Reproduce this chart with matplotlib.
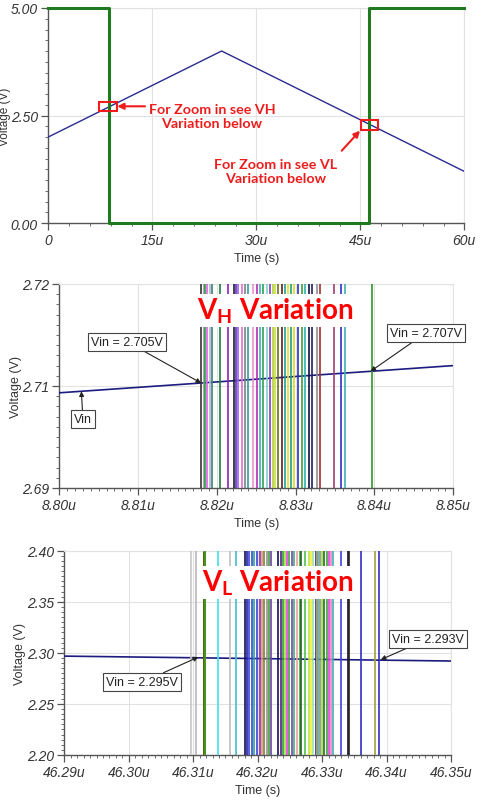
import matplotlib
matplotlib.use("Agg")
import matplotlib.pyplot as plt
from matplotlib.ticker import FixedLocator, FixedFormatter, AutoMinorLocator
from matplotlib.patches import Rectangle

plt.rcParams['font.family'] = ['Liberation Sans', 'DejaVu Sans']
plt.rcParams['mathtext.fontset'] = 'custom'
plt.rcParams['mathtext.bf'] = 'Lato:bold'
plt.rcParams['mathtext.rm'] = 'Lato'

# ---------------- data ----------------
# top panel (time in microseconds)
sq_t = [0, 8.82, 8.82, 46.32, 46.32, 60]
sq_v = [5, 5, 0, 0, 5, 5]
vin_t = [0, 25, 60]
vin_v = [2.0, 4.0, 1.2]
top_xticks = [0, 15, 30, 45, 60]
top_xlabels = ['0', '15u', '30u', '45u', '60u']
top_yticks = [0, 2.5, 5]
top_ylabels = ['0.00', '2.50', '5.00']

# middle panel (VH)
vh_vin_t = [8.80, 8.85]
vh_vin_v = [2.7040, 2.7080]
vh_lines_t = [8.8180, 8.8183, 8.8185, 8.8187, 8.8191, 8.8194, 8.8204, 8.8214,
              8.8222, 8.8224, 8.8227, 8.8232, 8.8236, 8.8239, 8.8246, 8.8251,
              8.8255, 8.8258, 8.8264, 8.8267, 8.8271, 8.8274, 8.8277, 8.8282,
              8.8286, 8.8290, 8.8294, 8.8298, 8.8303, 8.8308, 8.8312, 8.8317,
              8.8321, 8.8327, 8.8331, 8.8349, 8.8357, 8.8363, 8.8397]
vh_lines_c = ['#333333', '#999999', '#2e9e4e', '#e060e0', '#c0b0e0', '#2e8b6e',
              '#1e7e3e', '#9020c0', '#202020', '#6030d0', '#a060e0', '#e070d0',
              '#808080', '#30a0a0', '#f090d0', '#b030b0', '#40b0c0', '#30a050',
              '#80d0d0', '#8040c0', '#b0d040', '#c8e040', '#707020', '#602020',
              '#20a0a0', '#e0e020', '#20a080', '#d8d820', '#3030c0', '#40a040',
              '#30b0b0', '#101040', '#202060', '#909090', '#a03030', '#a04070',
              '#3030d0', '#40b0b0', '#2a9a2a']
vh_xticks = [8.80, 8.81, 8.82, 8.83, 8.84, 8.85]
vh_xlabels = ['8.80u', '8.81u', '8.82u', '8.83u', '8.84u', '8.85u']
vh_yticks = [2.69, 2.705, 2.72]
vh_ylabels = ['2.69', '2.71', '2.72']

# bottom panel (VL)
vl_vin_t = [46.29, 46.35]
vl_vin_v = [2.2968, 2.2920]
vl_lines_t = [46.3096, 46.3104, 46.3116, 46.3118, 46.3139, 46.3157, 46.3167,
              46.3180, 46.3183, 46.3187, 46.3191, 46.3194, 46.3199, 46.3203,
              46.3206, 46.3210, 46.3214, 46.3218, 46.3220, 46.3232, 46.3236,
              46.3240, 46.3242, 46.3246, 46.3249, 46.3253, 46.3256, 46.3261,
              46.3265, 46.3268, 46.3273, 46.3279, 46.3283, 46.3286, 46.3290,
              46.3292, 46.3294, 46.3297, 46.3300, 46.3303, 46.3307, 46.3310,
              46.3314, 46.3317, 46.3329, 46.3340, 46.3342, 46.3361, 46.3382,
              46.3388]
vl_lines_c = ['#c8c8c8', '#b8b8b8', '#606010', '#40a020', '#40e0f0', '#c0c0c0',
              '#40c0d0', '#101050', '#2020a0', '#4040e0', '#3050d0', '#30a0a0',
              '#4040d0', '#8030b0', '#e09080', '#808030', '#909090', '#40a040',
              '#7040a0', '#101060', '#502080', '#30a030', '#a0e040', '#e040e0',
              '#40a040', '#8040b0', '#40b080', '#f0a0a0', '#40b040', '#206020',
              '#50c050', '#c0e040', '#f0f040', '#a0e0a0', '#303080', '#e0a040',
              '#40b0b0', '#909090', '#a0e040', '#207020', '#40a040', '#e040e0',
              '#f080c0', '#40b0b0', '#4040e0', '#101040', '#202020', '#3030c0',
              '#a0a040', '#3030c0']
vl_xticks = [46.29, 46.30, 46.31, 46.32, 46.33, 46.34, 46.35]
vl_xlabels = ['46.29u', '46.30u', '46.31u', '46.32u', '46.33u', '46.34u', '46.35u']
vl_yticks = [2.20, 2.25, 2.30, 2.35, 2.40]
vl_ylabels = ['2.20', '2.25', '2.30', '2.35', '2.40']

# ---------------- figure ----------------
W, H = 491, 803
fig = plt.figure(figsize=(W / 100, H / 100), dpi=100)


def make_ax(l, r, t, b):
    return fig.add_axes([l / W, 1 - b / H, (r - l) / W, (b - t) / H])


AX_C = '#555555'
GRID_C = '#e2e2e2'
TXT_C = '#333333'


def style(ax, xticks, xlabels, yticks, ylabels, xminor, yminor, ylab_fs=9):
    ax.xaxis.set_major_locator(FixedLocator(xticks))
    ax.xaxis.set_major_formatter(FixedFormatter(xlabels))
    ax.yaxis.set_major_locator(FixedLocator(yticks))
    ax.yaxis.set_major_formatter(FixedFormatter(ylabels))
    ax.xaxis.set_minor_locator(AutoMinorLocator(xminor))
    ax.yaxis.set_minor_locator(AutoMinorLocator(yminor))
    ax.grid(True, which='major', color=GRID_C, lw=0.8, zorder=0)
    ax.set_axisbelow(True)
    for s in ['left', 'bottom']:
        ax.spines[s].set_color(AX_C)
        ax.spines[s].set_linewidth(1.0)
    for s in ['top', 'right']:
        ax.spines[s].set_color(GRID_C)
        ax.spines[s].set_linewidth(0.8)
    ax.tick_params(which='major', length=5, width=0.9, color=AX_C, pad=2.5,
                   labelsize=10, labelcolor=TXT_C)
    ax.tick_params(which='minor', length=2.5, width=0.6, color=AX_C)
    for lab in ax.get_xticklabels() + ax.get_yticklabels():
        lab.set_fontstyle('italic')
    ax.set_xlabel('Time (s)', fontsize=9, color=TXT_C)
    ax.set_ylabel('Voltage (V)', fontsize=ylab_fs, color=TXT_C)


# ---------- top panel ----------
ax1 = make_ax(48.3, 464.3, 9, 224)
ax1.set_xlim(0, 60)
ax1.set_ylim(0, 5)
ax1.plot(vin_t, vin_v, color='#2a2a90', lw=1.0, zorder=3)
ax1.plot(sq_t, sq_v, color='#1f7a1f', lw=2.2, zorder=4, clip_on=False)
style(ax1, top_xticks, top_xlabels, top_yticks, top_ylabels, 5, 10, ylab_fs=8.5)
ax1.xaxis.set_label_coords(0.5, -0.135)
ax1.yaxis.set_label_coords(-0.0905, 0.5)

RED = '#ee1c1c'
ax1.add_patch(Rectangle((7.36, 2.60), 2.51, 0.22, fill=False, ec=RED, lw=1.5, zorder=6))
ax1.add_patch(Rectangle((45.1, 2.17), 2.5, 0.225, fill=False, ec=RED, lw=1.5, zorder=6))
ax1.annotate('', xy=(9.95, 2.714), xytext=(13.95, 2.714),
             arrowprops=dict(arrowstyle='-|>', color=RED, lw=1.5,
                             mutation_scale=9, shrinkA=0, shrinkB=0), zorder=6)
ax1.annotate('', xy=(44.96, 2.147), xytext=(42.32, 1.681),
             arrowprops=dict(arrowstyle='-|>', color=RED, lw=1.5,
                             mutation_scale=9, shrinkA=0, shrinkB=0), zorder=6)
ax1.text(23.6, 2.477, 'For Zoom in see VH\nVariation below', color=RED,
         fontfamily='Lato', fontweight='bold', fontsize=10.3, ha='center',
         va='center', linespacing=1.2, zorder=6)
ax1.text(32.85, 1.209, 'For Zoom in see VL\nVariation below', color=RED,
         fontfamily='Lato', fontweight='bold', fontsize=10.3, ha='center',
         va='center', linespacing=1.2, zorder=6)

BOX = dict(boxstyle='square,pad=0.25', fc='white', ec='#444444', lw=0.8)
ARR = dict(arrowstyle='-|>', color='#222222', lw=0.8, mutation_scale=7,
           shrinkA=0, shrinkB=0)

# ---------- middle panel ----------
ax2 = make_ax(59.3, 453.3, 285, 489)
ax2.set_xlim(8.80, 8.85)
ax2.set_ylim(2.69, 2.72)
ax2.plot(vh_vin_t, vh_vin_v, color='#1c1c80', lw=1.2, zorder=3)
ax2.vlines(vh_lines_t, 0, 1, colors=vh_lines_c, lw=1.2,
           transform=ax2.get_xaxis_transform(), zorder=4)
style(ax2, vh_xticks, vh_xlabels, vh_yticks, vh_ylabels, 10, 10)
ax2.xaxis.set_label_coords(0.5, -0.142)
ax2.yaxis.set_label_coords(-0.095, 0.5)
ax2.text(0.5475, 0.869, r'$\mathbf{V_H}$ Variation', transform=ax2.transAxes,
         color='#ff0000', fontfamily='Lato', fontweight='bold', fontsize=20,
         ha='center', va='center', zorder=8,
         bbox=dict(fc='white', ec='none', pad=1.5))
ax2.annotate('Vin = 2.705V', xy=(8.8180, 2.70544), xytext=(8.8086, 2.7115),
             fontsize=9, color='#222222', ha='center', va='center',
             bbox=BOX, arrowprops=ARR, zorder=9)
ax2.annotate('Vin = 2.707V', xy=(8.8395, 2.70716), xytext=(8.8465, 2.7128),
             fontsize=9, color='#222222', ha='center', va='center',
             bbox=BOX, arrowprops=ARR, zorder=9)
ax2.annotate('Vin', xy=(8.8028, 2.70422), xytext=(8.8030, 2.7001),
             fontsize=9, color='#222222', ha='center', va='center',
             bbox=BOX, arrowprops=ARR, zorder=9)

# ---------- bottom panel ----------
ax3 = make_ax(64.3, 451, 551.7, 756)
ax3.set_xlim(46.29, 46.35)
ax3.set_ylim(2.20, 2.40)
ax3.plot(vl_vin_t, vl_vin_v, color='#1c1c80', lw=1.2, zorder=3)
lws = [2.2 if c == '#606010' else 1.2 for c in vl_lines_c]
ax3.vlines(vl_lines_t, 0, 1, colors=vl_lines_c, lw=lws,
           transform=ax3.get_xaxis_transform(), zorder=4)
style(ax3, vl_xticks, vl_xlabels, vl_yticks, vl_ylabels, 10, 10)
ax3.xaxis.set_label_coords(0.5, -0.142)
ax3.yaxis.set_label_coords(-0.099, 0.5)
ax3.text(0.551, 0.845, r'$\mathbf{V_L}$ Variation', transform=ax3.transAxes,
         color='#ff0000', fontfamily='Lato', fontweight='bold', fontsize=20,
         ha='center', va='center', zorder=8,
         bbox=dict(fc='white', ec='none', pad=1.5))
ax3.annotate('Vin = 2.295V', xy=(46.3108, 2.2959), xytext=(46.3021, 2.2712),
             fontsize=9, color='#222222', ha='center', va='center',
             bbox=BOX, arrowprops=ARR, zorder=9)
ax3.annotate('Vin = 2.293V', xy=(46.3391, 2.2933), xytext=(46.3464, 2.3136),
             fontsize=9, color='#222222', ha='center', va='center',
             bbox=BOX, arrowprops=ARR, zorder=9)

fig.savefig('out.png', dpi=100)
